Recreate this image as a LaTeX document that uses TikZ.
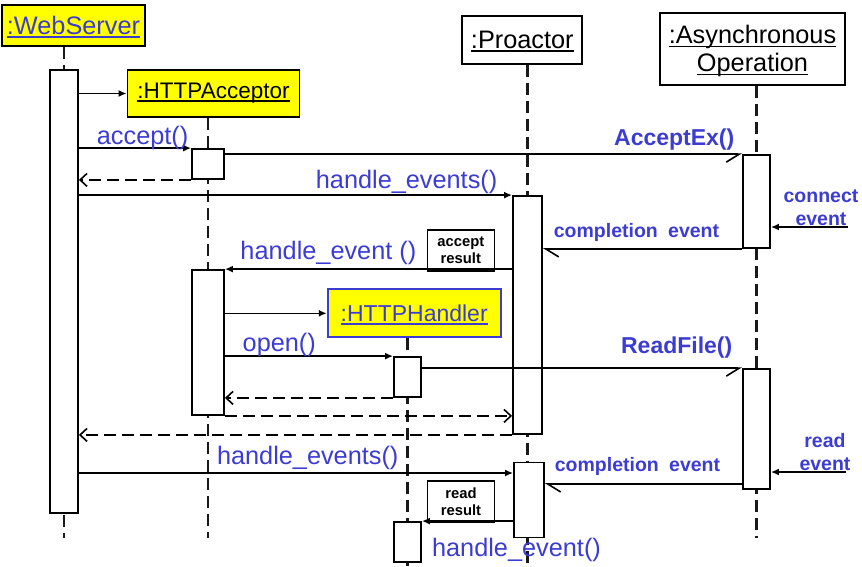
\documentclass[tikz,border=0pt]{standalone}
\usepackage{fontspec}
\setmainfont{Liberation Sans}
\usepackage{xcolor}
\usetikzlibrary{arrows.meta,backgrounds}
\definecolor{umlblue}{RGB}{60,60,210}
\definecolor{umlyellow}{RGB}{255,255,0}
\newcommand{\uname}[1]{\leavevmode\setbox0=\hbox{#1}\rlap{\smash{\rule[-0.13em]{\wd0}{0.06em}}}\box0}

\begin{document}
\begin{tikzpicture}[x=1pt,y=-1pt,
    obj/.style={rectangle,draw=black,line width=1.8pt,inner sep=0pt,align=center,
      font=\fontsize{25.3}{28}\selectfont},
    act/.style={rectangle,draw=black,fill=white,line width=1.8pt,inner sep=0pt,minimum width=28pt},
    life/.style={line width=2.1pt,draw=black!90,dash pattern=on 12pt off 6pt},
    msg/.style={line width=1.6pt,-{Latex[length=8pt,width=7pt]}},
    ret/.style={line width=1.6pt,dash pattern=on 12pt off 6pt,-{Straight Barb[length=7pt,width=13pt]}},
    callasync/.style={line width=1.6pt,-{Straight Barb[right,length=13pt,width=16pt]}},
    doneasync/.style={line width=1.6pt,-{Straight Barb[left,length=13pt,width=16pt]}},
    lbl/.style={text=umlblue,inner sep=2pt,font=\fontsize{25.3}{30}\selectfont},
    mlbl/.style={text=umlblue,inner sep=1pt,font=\bfseries\fontsize{23}{27}\selectfont},
    elbl/.style={text=umlblue,inner sep=1pt,align=center,font=\bfseries\fontsize{19.5}{23}\selectfont},
    note/.style={rectangle,draw=black,fill=white,line width=1.6pt,inner sep=0pt,align=center,
      minimum width=67pt,minimum height=41pt,font=\bfseries\fontsize{14.8}{17}\selectfont}
  ]
    \useasboundingbox (0,0) rectangle (862,566);

    % objects
    \node[obj,fill=umlyellow,text=umlblue,minimum width=143pt,minimum height=41pt] (ws) at (73.5,25.5) {\uname{:WebServer}};
    \node[obj,fill=umlyellow,font=\fontsize{22.5}{26}\selectfont,minimum width=172pt,minimum height=47pt] (acc) at (213.5,93.5) {\uname{:HTTPAcceptor}};
    \node[obj,minimum width=120pt,minimum height=48pt] (pro) at (522.3,39.7) {\uname{:Proactor}};
    \node[obj,text depth=0pt,minimum width=185pt,minimum height=72pt] (asy) at (752.5,48.7) {\uname{:Asynchronous}\\\uname{Operation}};
    \node[obj,draw=umlblue,fill=umlyellow,text=umlblue,font=\fontsize{23}{26}\selectfont,minimum width=173pt,minimum height=48pt] (hnd) at (414.2,313.3) {\uname{:HTTPHandler}};

    % activations
    \node[act,minimum height=443pt] (wsAct) at (64,291.5) {};
    \node[act,minimum width=32pt,minimum height=30pt] (accAct1) at (208,164) {};
    \node[act,minimum width=32pt,minimum height=145pt] (accAct2) at (208,342.5) {};
    \node[act,minimum width=29pt,minimum height=238pt] (proAct1) at (527.5,315) {};
    \node[act,minimum width=30pt,minimum height=75pt] (proAct2) at (529,500) {};
    \node[act,minimum width=27pt,minimum height=93pt] (asyAct1) at (756.5,201.5) {};
    \node[act,minimum width=27pt,minimum height=120pt] (asyAct2) at (756.5,429) {};
    \node[act,minimum width=27pt,minimum height=40pt] (hAct1) at (407.5,377) {};
    \node[act,minimum width=27pt,minimum height=40pt] (hAct2) at (407.5,542) {};

    % notes
    \node[note] (accres) at (460.8,250.3) {accept\\result};
    \node[note] (rdres) at (461,501.3) {read\\result};

    \coordinate (lifeend) at (0,538);
    \coordinate (pageend) at (0,566);
    \coordinate (conn) at (848,227);
    \coordinate (he2) at (300,473);
    \coordinate (ce2) at (700,484);
    \coordinate (rdev) at (846,472);

    % lifelines
    \begin{scope}[on background layer]
      \draw[life] (wsAct.north |- ws.south) -- (wsAct.north |- lifeend);
      \draw[life] (accAct1.north |- acc.south) -- (accAct1.north |- lifeend);
      \draw[life] (proAct1.north |- pro.south) -- (proAct1.north |- pageend);
      \draw[life] (asyAct1.north |- asy.south) -- (asyAct1.north |- lifeend);
      \draw[life] (hAct1.north |- hnd.south) -- (hAct1.north |- pageend);
    \end{scope}

    % messages
    \draw[msg] (wsAct.east |- acc.west) -- (acc.west);
    \draw[msg] (wsAct.east |- accAct1.north west) -- node[lbl,pos=1,above left,yshift=-4pt] {accept()} (accAct1.north west);
    \draw[ret] (accAct1.south west) -- (wsAct.east |- accAct1.south west);
    \draw[callasync] (accAct1.east |- asyAct1.north west) -- node[mlbl,pos=1,above left,xshift=-6pt,yshift=2pt] {AcceptEx()} (asyAct1.north west);
    \draw[msg] (wsAct.east |- proAct1.north west) -- node[lbl,pos=1,above left,xshift=-12pt,yshift=-1pt] {handle\_events()} (proAct1.north west);
    \draw[doneasync] (asyAct1.south west) -- node[elbl,above,xshift=-6pt,yshift=6pt] {completion\hspace{0.25em} event} (proAct1.east |- asyAct1.south west);
    \draw[msg] (conn) -- node[elbl,above,pos=0.35] {connect\\event} (asyAct1.east |- conn);

    \draw[msg] (proAct1.west |- accAct2.north east) -- (accAct2.north east);
    \node[lbl,anchor=south east,xshift=-8pt,yshift=5pt] (he1) at (accres.south west) {handle\_event ()};
    \draw[msg] (accAct2.east |- hnd.west) -- (hnd.west);
    \draw[msg] (accAct2.east |- hAct1.north west) -- node[lbl,pos=0,above right,xshift=15pt,yshift=-3pt] {open()} (hAct1.north west);
    \draw[callasync] (hAct1.east |- asyAct2.north west) -- node[mlbl,pos=1,above left,xshift=-8pt,yshift=8pt] {ReadFile()} (asyAct2.north west);
    \draw[ret] (hAct1.south west) -- (accAct2.east |- hAct1.south west);
    \draw[ret] (accAct2.south east) -- (proAct1.west |- accAct2.south east);
    \draw[ret] (proAct1.south west) -- (wsAct.east |- proAct1.south west);

    \draw[msg] (wsAct.east |- he2) -- node[lbl,above,pos=0.527] {handle\_events()} (proAct2.west |- he2);
    \draw[doneasync] (asyAct2.west |- ce2) -- node[elbl,above,xshift=-6pt,yshift=7pt] {completion\hspace{0.25em} event} (proAct2.east |- ce2);
    \draw[msg] (rdev) -- node[elbl,above,pos=0.28] {read\\event} (asyAct2.east |- rdev);
    \draw[msg] (proAct2.west |- hAct2.north east) -- (hAct2.north east);
    \node[lbl,anchor=north west,xshift=8pt,yshift=-15pt] (he3) at (hAct2.north east) {handle\_event()};
  \end{tikzpicture}
\end{document}
